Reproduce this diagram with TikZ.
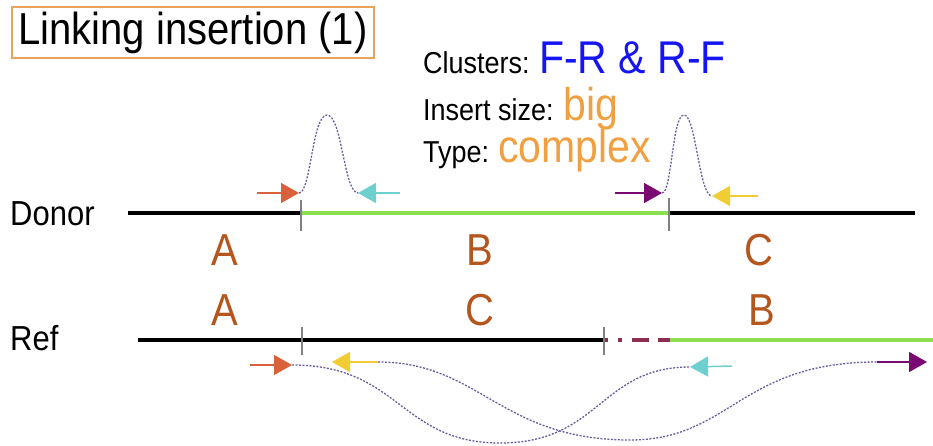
\documentclass[tikz,border=0pt]{standalone}
\usepackage{fontspec}
\usepackage{graphicx}
\setmainfont{Liberation Sans}
\usetikzlibrary{arrows.meta}
\definecolor{boxorange}{HTML}{E9A35B}
\definecolor{clusterblue}{HTML}{1414F5}
\definecolor{sizeorange}{HTML}{F0A040}
\definecolor{segbrown}{HTML}{B4561E}
\definecolor{insgreen}{HTML}{8CE050}
\definecolor{gapred}{HTML}{8C2D52}
\definecolor{readorange}{HTML}{D9623C}
\definecolor{readcyan}{HTML}{6ECFCF}
\definecolor{readpurple}{HTML}{7A0A72}
\definecolor{readyellow}{HTML}{F2CC33}
\definecolor{pairline}{HTML}{6B5B9E}
\newcommand\tallt[1]{\scalebox{1}[1.12]{#1}}
\tikzset{
  read/.style={line width=1.5pt,-{Triangle[length=18pt,width=20pt]}},
  pair/.style={pairline,line width=1.3pt,dash pattern=on 2pt off 1.5pt},
  seg/.style={text=segbrown,font=\fontsize{40}{48}\selectfont,anchor=base,inner sep=0pt},
  lab/.style={anchor=base west,inner sep=0pt},
  tickmark/.style={gray,line width=1.2pt},
}
\begin{document}
\begin{tikzpicture}[x=1pt,y=-1pt]
\useasboundingbox (0,0) rectangle (933,445);
% title and legend
\node[draw=boxorange,line width=2pt,inner xsep=6.5pt,inner ysep=6pt,text height=32pt,text depth=7pt,
  font=\fontsize{40}{48}\selectfont] (title) at (193,32) {\tallt{Linking insertion (1)}};
\node[lab,font=\fontsize{27}{32}\selectfont] (clusters) at (423,73) {\tallt{Clusters:}};
\node[lab,font=\fontsize{41}{48}\selectfont,text=clusterblue] (clusterval) at (539,73) {\tallt{F-R \& R-F}};
\node[lab,font=\fontsize{27}{32}\selectfont] (insize) at (423,120) {\tallt{Insert size:}};
\node[lab,font=\fontsize{41}{48}\selectfont,text=sizeorange] (insizeval) at (563,120) {\tallt{big}};
\node[lab,font=\fontsize{27}{32}\selectfont] (type) at (423,162) {\tallt{Type:}};
\node[lab,font=\fontsize{41}{48}\selectfont,text=sizeorange] (typeval) at (498,162) {\tallt{complex}};
% donor
\node[lab,font=\fontsize{31}{36}\selectfont] (donor) at (10,225) {\tallt{Donor}};
\coordinate (dA) at (128,213);
\coordinate (dB) at (301,213);
\coordinate (dC) at (668,213);
\coordinate (dE) at (915,213);
\draw[line width=4pt] (dA) -- (dB);
\draw[insgreen,line width=4.5pt] (dB) -- (dC);
\draw[line width=4pt] (dC) -- (dE);
\draw[tickmark] (301,200) -- (301,231);
\draw[tickmark] (669,198) -- (669,231);
\node[seg] (donA) at (225,265) {\tallt{A}};
\node[seg] (donB) at (480,265) {\tallt{B}};
\node[seg] (donC) at (759,265) {\tallt{C}};
% reads on donor
\coordinate (o1) at (257,193); \coordinate (o1t) at (299,193);
\coordinate (c1) at (400,193); \coordinate (c1t) at (358,193);
\coordinate (p1) at (615,193); \coordinate (p1t) at (662,193);
\coordinate (y1) at (758,196); \coordinate (y1t) at (712,196);
\draw[pair] (o1t) .. controls (311,193) and (312,115) .. (327,115) .. controls (342,115) and (344,193) .. (c1t);
\draw[pair] (p1t) .. controls (672,193) and (672,115) .. (684,115) .. controls (696,115) and (699,196) .. (y1t);
\draw[read,readorange] (o1) -- (o1t);
\draw[read,readcyan] (c1) -- (c1t);
\draw[read,readpurple] (p1) -- (p1t);
\draw[read,readyellow] (y1) -- (y1t);
% reference
\node[lab,font=\fontsize{31}{36}\selectfont] (ref) at (10,350) {\tallt{Ref}};
\coordinate (rA) at (138,340);
\coordinate (rgap) at (604,340);
\coordinate (rB) at (670,340);
\coordinate (rE) at (933,340);
\draw[line width=4pt] (rA) -- (rgap);
\draw[gapred,line width=4pt,dash pattern=on 4pt off 10pt on 4pt off 10pt on 17pt off 9pt on 12pt off 20pt] (rgap) -- (rB);
\draw[insgreen,line width=4.5pt] (rB) -- (rE);
\draw[tickmark] (302,327) -- (302,355);
\draw[tickmark] (604,327) -- (604,355);
\node[seg] (refA) at (225,325) {\tallt{A}};
\node[seg] (refC) at (480,325) {\tallt{C}};
\node[seg] (refB) at (762,325) {\tallt{B}};
% reads on reference
\coordinate (o2) at (250,365); \coordinate (o2t) at (292,365);
\coordinate (y2) at (378,362); \coordinate (y2t) at (332,362);
\coordinate (c2) at (732,366); \coordinate (c2t) at (690,367);
\coordinate (p2) at (877,362); \coordinate (p2t) at (927,362);
\draw[pair] (o2t) .. controls (400,365) and (400,443) .. (500,443) .. controls (600,443) and (600,367) .. (c2t);
\draw[pair] (y2) .. controls (480,362) and (500,440) .. (630,440) .. controls (730,440) and (740,362) .. (p2);
\draw[read,readorange] (o2) -- (o2t);
\draw[read,readyellow] (y2) -- (y2t);
\draw[read,readcyan] (c2) -- (c2t);
\draw[read,readpurple] (p2) -- (p2t);
\end{tikzpicture}
\end{document}
